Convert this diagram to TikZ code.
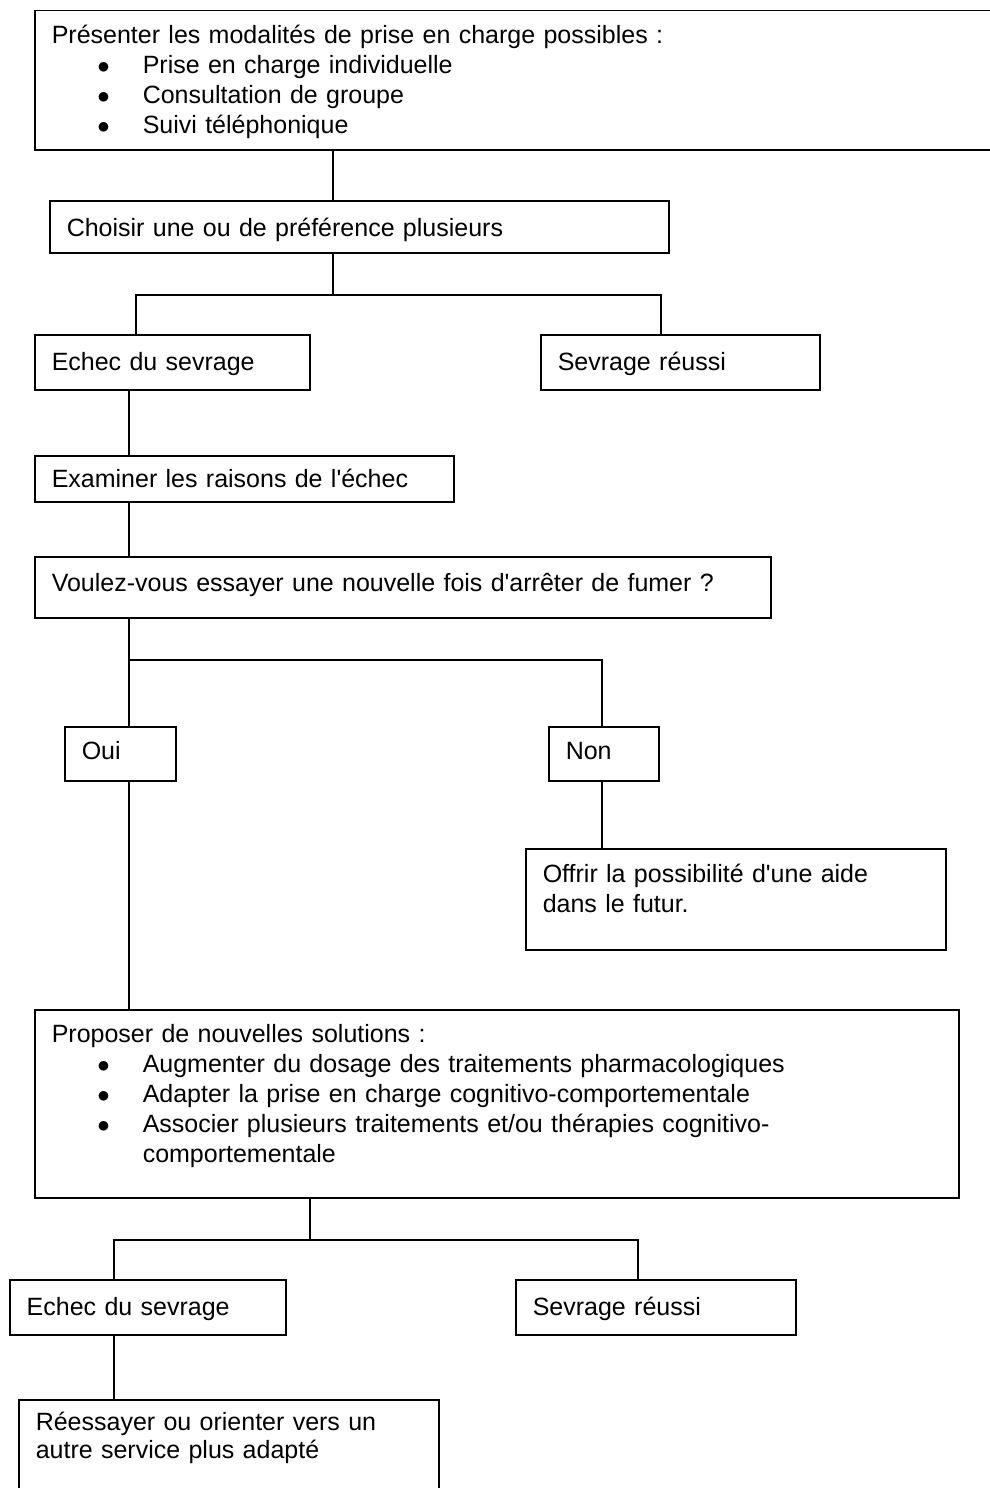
\documentclass[tikz,border=0pt]{standalone}
\usepackage{fontspec}
\newfontfamily\flowfont{Liberation Sans}
\usetikzlibrary{positioning}

\tikzset{
  stepbox/.style={draw, line width=1.5pt, anchor=north west, inner xsep=17pt, inner ysep=0pt,
    align=left, font=\flowfont\fontsize{25}{30}\selectfont},
  link/.style={line width=1.5pt},
}
\newcommand{\itembullet}{\hspace*{45.5pt}\makebox[45.5pt][l]{$\bullet$}}

\begin{document}
\begin{tikzpicture}[x=1pt, y=-1pt]
    \useasboundingbox (0,0) rectangle (989,1488);

    % boxes
    \node[stepbox, text width=932pt, text height=33pt, text depth=106pt] (modal) at (34,10)
        {Présenter les modalités de prise en charge possibles :\\
         \itembullet Prise en charge individuelle\\
         \itembullet Consultation de groupe\\
         \itembullet Suivi téléphonique};
    \node[stepbox, text width=585pt, text height=36pt, text depth=16pt] (choisir) at (49,200)
        {Choisir une ou de préférence plusieurs};
    \node[stepbox, text width=241pt, text height=36pt, text depth=19pt] (echecA) at (34,334)
        {Echec du sevrage};
    \node[stepbox, text width=245pt, text height=36pt, text depth=19pt] (reussiA) at (540,334)
        {Sevrage réussi};
    \node[stepbox, text width=385pt, text height=32pt, text depth=14pt] (examiner) at (34,455)
        {Examiner les raisons de l'échec};
    \node[stepbox, text width=702pt, text height=35pt, text depth=26pt] (voulez) at (34,556)
        {Voulez-vous essayer une nouvelle fois d'arrêter de fumer ?};
    \node[stepbox, text width=77pt, text height=33pt, text depth=21pt] (oui) at (64,726) {Oui};
    \node[stepbox, text width=76pt, text height=33pt, text depth=21pt] (non) at (548,726) {Non};
    \node[stepbox, text width=386pt, text height=34pt, text depth=67pt] (offrir) at (525,848)
        {Offrir la possibilité d'une aide\\dans le futur.};
    \node[stepbox, text width=890pt, text height=33pt, text depth=155pt] (proposer) at (34,1009)
        {Proposer de nouvelles solutions :\\
         \itembullet Augmenter du dosage des traitements pharmacologiques\\
         \itembullet Adapter la prise en charge cognitivo-comportementale\\
         \itembullet Associer plusieurs traitements et/ou thérapies cognitivo-\\
         \hspace*{91pt}comportementale};
    \node[stepbox, text width=242pt, text height=36pt, text depth=19pt] (echecB) at (9,1279)
        {Echec du sevrage};
    \node[stepbox, text width=246pt, text height=36pt, text depth=19pt] (reussiB) at (515,1279)
        {Sevrage réussi};
    \node[stepbox, text width=386pt, text height=31pt, text depth=120pt,
        font=\flowfont\fontsize{25}{28}\selectfont] (reessayer) at (18,1399)
        {Réessayer ou orienter vers un\\autre service plus adapté};

    % junctions
    \coordinate (t1) at (333,0);
    \coordinate (b1) at (333,295);
    \coordinate (b1l) at (136,295);
    \coordinate (b1r) at (661,295);
    \coordinate (b2l) at (129,660);
    \coordinate (b2r) at (602,660);
    \coordinate (b3) at (310,1240);
    \coordinate (b3l) at (114,1240);
    \coordinate (b3r) at (638,1240);

    % connectors
    \draw[link] (modal.south -| t1) -- (choisir.north -| t1);
    \draw[link] (choisir.south -| b1) -- (b1);
    \draw[link] (echecA.north -| b1l) -- (b1l) -- (b1r) -- (reussiA.north -| b1r);
    \draw[link] (echecA.south -| b2l) -- (examiner.north -| b2l);
    \draw[link] (examiner.south -| b2l) -- (voulez.north -| b2l);
    \draw[link] (voulez.south -| b2l) -- (oui.north -| b2l);
    \draw[link] (b2l) -- (b2r) -- (non.north -| b2r);
    \draw[link] (oui.south -| b2l) -- (proposer.north -| b2l);
    \draw[link] (non.south -| b2r) -- (offrir.north -| b2r);
    \draw[link] (proposer.south -| b3) -- (b3);
    \draw[link] (echecB.north -| b3l) -- (b3l) -- (b3r) -- (reussiB.north -| b3r);
    \draw[link] (echecB.south -| b3l) -- (reessayer.north -| b3l);
\end{tikzpicture}
\end{document}
